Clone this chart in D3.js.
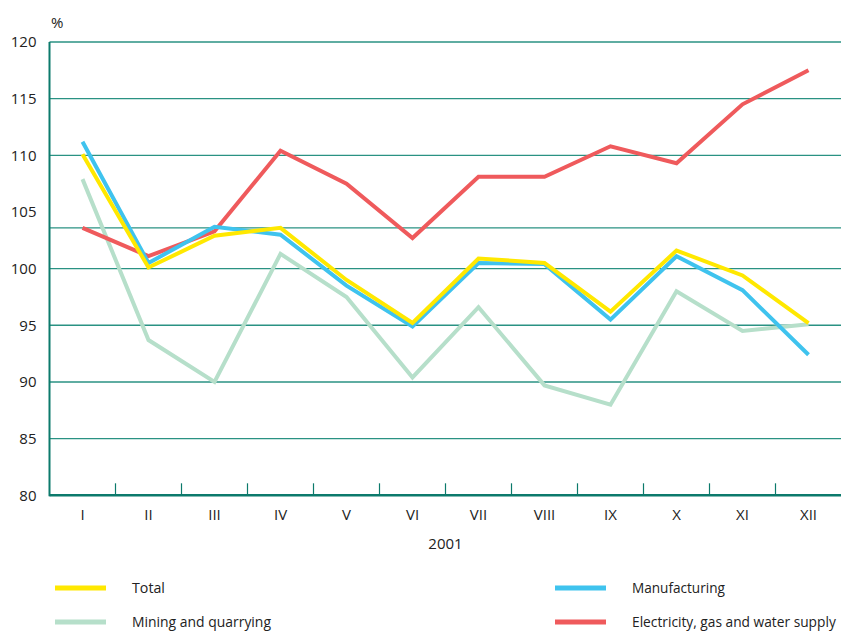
<!DOCTYPE html>
<html>
<head>
<meta charset="utf-8">
<script src="https://cdn.jsdelivr.net/npm/d3@7"></script>
<style>
  html, body { margin: 0; padding: 0; background: #fff; }
  svg text { font-family: "Open Sans", "DejaVu Sans", sans-serif; fill: #222; }
</style>
</head>
<body>
<svg id="chart" width="841" height="633"></svg>
<script>
// Monthly industrial production index, 2001 (%)
const months = ["I", "II", "III", "IV", "V", "VI", "VII", "VIII", "IX", "X", "XI", "XII"];
const total         = [110.1, 100.1, 102.9, 103.6, 99.0, 95.2, 100.9, 100.5, 96.2, 101.6, 99.4, 95.2];
const manufacturing = [111.2, 100.5, 103.7, 103.0, 98.5, 94.9, 100.5, 100.4, 95.5, 101.1, 98.1, 92.4];
const mining        = [107.9, 93.7, 90.0, 101.3, 97.5, 90.4, 96.6, 89.7, 88.0, 98.0, 94.5, 95.1];
const electricity   = [103.6, 101.1, 103.3, 110.4, 107.5, 102.7, 108.1, 108.1, 110.8, 109.3, 114.5, 117.5];
const yTicks = [80, 85, 90, 95, 100, 105, 110, 115, 120];
const gridValues = [85, 90, 95, 100, 103.6, 110, 115, 120];
const yearLabel = "2001";

const series = [
  { name: "Mining and quarrying", values: mining, color: "#b6dfca" },
  { name: "Electricity, gas and water supply", values: electricity, color: "#ef5a5c" },
  { name: "Manufacturing", values: manufacturing, color: "#3fc3ee" },
  { name: "Total", values: total, color: "#ffe800" }
];

const svg = d3.select("#chart");
const plotLeft = 49.5, plotRight = 841.5, plotTop = 42, plotBottom = 495.3;

const x = d3.scaleBand().domain(months).range([plotLeft, plotRight]);
const y = d3.scaleLinear().domain([80, 120]).range([plotBottom, plotTop]);

const axisColor = "#0c7a6c";
const gridColor = "#2a9283";

// horizontal grid
svg.append("g").selectAll("line").data(gridValues).join("line")
  .attr("x1", plotLeft).attr("x2", 841)
  .attr("y1", d => y(d)).attr("y2", d => y(d))
  .attr("stroke", gridColor).attr("stroke-width", 1.4);

// y-axis labels
const yAxis = d3.axisLeft(y).tickValues(yTicks).tickSize(0).tickPadding(13);
const gy = svg.append("g").attr("transform", `translate(${plotLeft},0)`).call(yAxis);
gy.select(".domain").remove();
gy.selectAll("text").attr("fill", "#222")
  .style("font-family", "'Open Sans', sans-serif").style("font-size", "15px");

// x-axis: labels at band centers, tick marks at band boundaries
const xAxis = d3.axisBottom(x).tickSize(0).tickPadding(14);
const gx = svg.append("g").attr("transform", `translate(0,${plotBottom})`).call(xAxis);
gx.select(".domain").remove();
gx.selectAll("text").style("font-family", "'Open Sans', sans-serif").style("font-size", "15px").attr("fill", "#222");

svg.append("g").selectAll("line").data(months.slice(1)).join("line")
  .attr("x1", d => x(d)).attr("x2", d => x(d))
  .attr("y1", plotBottom - 12).attr("y2", plotBottom)
  .attr("stroke", axisColor).attr("stroke-width", 1.2);

// axis lines
svg.append("line").attr("x1", plotLeft).attr("x2", plotLeft).attr("y1", plotTop).attr("y2", plotBottom + 1)
  .attr("stroke", axisColor).attr("stroke-width", 2);
svg.append("line").attr("x1", plotLeft).attr("x2", 841).attr("y1", plotBottom).attr("y2", plotBottom)
  .attr("stroke", axisColor).attr("stroke-width", 2.4);

svg.append("text").attr("x", 51).attr("y", 28).style("font-size", "15px").text("%");
svg.append("text").attr("x", (plotLeft + plotRight) / 2).attr("y", 549).attr("text-anchor", "middle")
  .style("font-size", "15px").text(yearLabel);

// series lines
const line = d3.line()
  .x((d, i) => x(months[i]) + x.bandwidth() / 2)
  .y(d => y(d));

svg.append("g").selectAll("path").data(series).join("path")
  .attr("d", d => line(d.values))
  .attr("fill", "none")
  .attr("stroke", d => d.color)
  .attr("stroke-width", 4)
  .attr("stroke-linejoin", "miter");

// legend (labels horizontally condensed to their target width)
const legend = [
  { name: "Total", color: "#ffe800", lx: 55, ty: 588, w: 33 },
  { name: "Mining and quarrying", color: "#b6dfca", lx: 55, ty: 622, w: 139 },
  { name: "Manufacturing", color: "#3fc3ee", lx: 555, ty: 588, w: 93 },
  { name: "Electricity, gas and water supply", color: "#ef5a5c", lx: 555, ty: 622, w: 204 }
];
const lg = svg.append("g").selectAll("g").data(legend).join("g");
lg.append("line")
  .attr("x1", d => d.lx).attr("x2", d => d.lx + 51)
  .attr("y1", d => d.ty).attr("y2", d => d.ty)
  .attr("stroke", d => d.color).attr("stroke-width", 5);
lg.append("text")
  .style("font-size", "15px").text(d => d.name)
  .each(function (d) {
    const natural = this.getComputedTextLength() || d.w;
    d3.select(this).attr("transform",
      `translate(${d.lx + 77},${d.ty + 5}) scale(${d.w / natural},1)`);
  });
</script>
</body>
</html>
